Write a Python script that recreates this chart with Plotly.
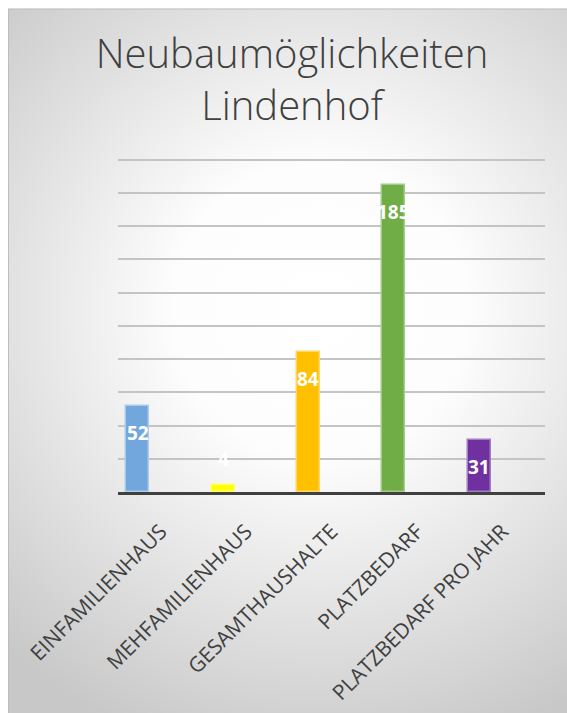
import base64
import plotly.graph_objects as go

categories = ["EINFAMILIENHAUS", "MEHFAMILIENHAUS", "GESAMTHAUSHALTE", "PLATZBEDARF", "PLATZBEDARF PRO JAHR"]
values = [52, 4, 84, 185, 31]
bar_colors = ["#71A7DC", "#FFFF00", "#FFC000", "#70AD47", "#7030A0"]
edge_colors = ["#A9CBEC", "#FFFF66", "#FFD766", "#A3CC8A", "#A27FC2"]
y_ticks = [0, 20, 40, 60, 80, 100, 120, 140, 160, 180, 200]
y_max = 210

W, H = 567, 713
top_grid_px, base_px = 160, 492
ML, MR = 118, 22
PH = (base_px - top_grid_px) * y_max / y_ticks[-1]
MT = base_px - PH
MB = H - base_px
PW = W - ML - MR

bar_w = 0.27
bar_off = -0.405
cat_px = PW / len(categories)

svg = f'''<svg xmlns="http://www.w3.org/2000/svg" width="{W}" height="{H}" viewBox="0 0 {W} {H}">
<defs><radialGradient id="g" gradientUnits="userSpaceOnUse" cx="320" cy="310" r="460">
<stop offset="0" stop-color="#ffffff"/><stop offset="0.32" stop-color="#fdfdfd"/>
<stop offset="1" stop-color="#c8c8c8"/></radialGradient></defs>
<rect x="0" y="0" width="{W}" height="{H}" fill="#ffffff"/>
<rect x="8.5" y="9.5" width="{W}" height="{H}" fill="url(#g)" stroke="#bdbdbd" stroke-width="1"/>
</svg>'''
src = "data:image/svg+xml;base64," + base64.b64encode(svg.encode()).decode()

fig = go.Figure()
fig.add_trace(go.Bar(
    x=categories, y=values,
    width=bar_w, offset=bar_off,
    marker=dict(color=bar_colors, line=dict(color=edge_colors, width=1.5)),
    hoverinfo="x+y",
))

annotations = []
for c, v in zip(categories, values):
    bar_px = v * PH / y_max
    shift = -27 if bar_px > 30 else 26  # inside end, or outside end if too short
    annotations.append(dict(
        x=c, y=v, xref="x", yref="y", text=f"<b>{v}</b>", showarrow=False,
        xanchor="center", yanchor="middle",
        font=dict(family="Open Sans", size=19, color="#ffffff"),
        xshift=(bar_off + bar_w / 2) * cat_px, yshift=shift,
    ))

fig.update_layout(
    width=W, height=H,
    margin=dict(l=ML, r=MR, t=MT, b=MB, pad=0, autoexpand=False),
    paper_bgcolor="#ffffff", plot_bgcolor="rgba(0,0,0,0)",
    showlegend=False,
    title=dict(
        text="Neubaumöglichkeiten<br>Lindenhof",
        x=292 / W, xanchor="center", xref="container",
        y=1 - 68 / H, yanchor="top", yref="container",
        font=dict(family="Open Sans", size=40, color="#404040", weight=300),
    ),
    images=[dict(
        source=src, xref="paper", yref="paper",
        x=-ML / PW, y=1 + MT / PH, sizex=W / PW, sizey=H / PH,
        xanchor="left", yanchor="top", sizing="stretch", layer="below",
    )],
    annotations=annotations,
    xaxis=dict(
        tickangle=-45, tickfont=dict(family="Open Sans", size=21, color="#404040"),
        showline=True, linecolor="#404040", linewidth=3, ticks="",
        ticklabelstandoff=16, showgrid=False, automargin=False,
    ),
    yaxis=dict(
        range=[0, y_max], tickvals=y_ticks, showticklabels=False,
        showgrid=True, gridcolor="#c4c4c4", gridwidth=1.5, zeroline=False,
        automargin=False,
    ),
    bargap=0,
)

fig.write_html(
    "out.html",
    config={"displayModeBar": False},
    post_script="document.body.style.margin='0';document.body.style.overflow='hidden';",
)
